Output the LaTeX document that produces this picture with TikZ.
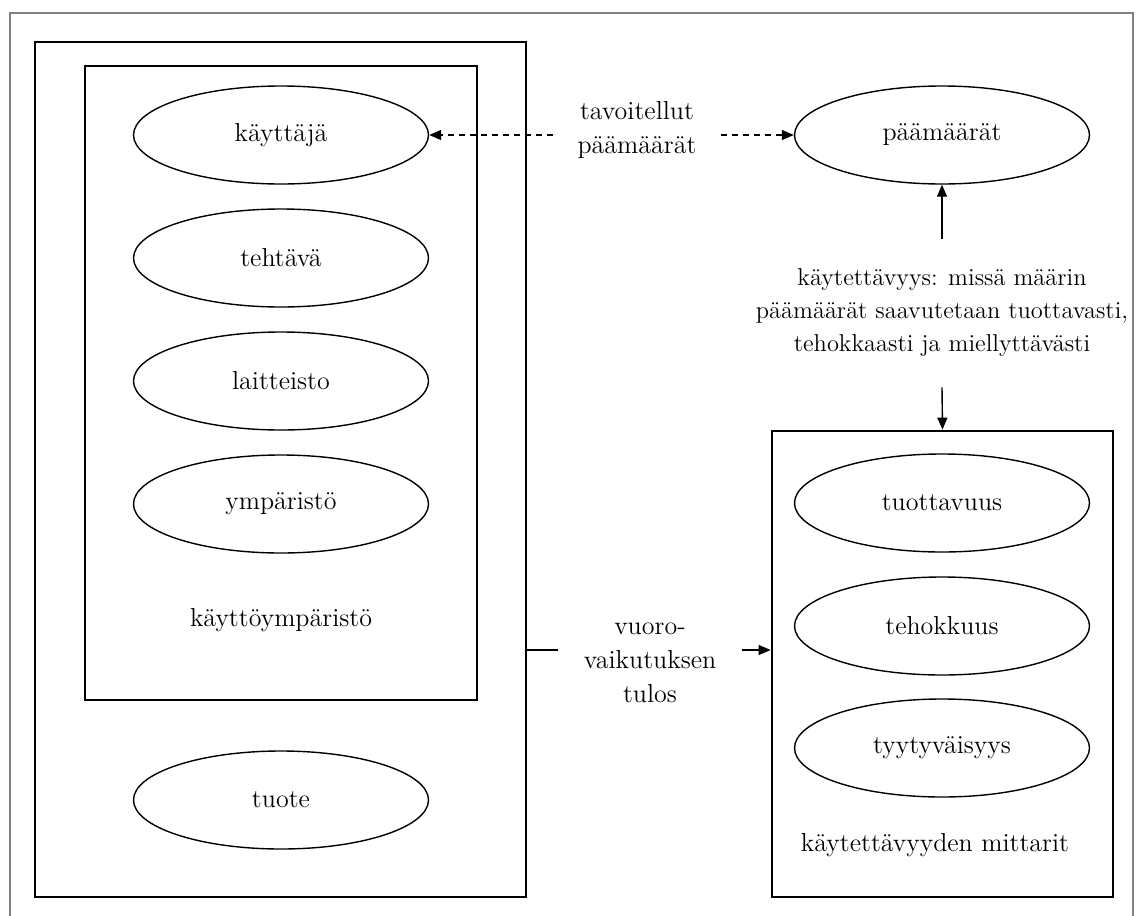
\documentclass[tikz,border=0pt]{standalone}
\usepackage{fontspec}
\usetikzlibrary{shapes.geometric,arrows.meta}
\begin{document}
\begin{tikzpicture}[x=0.5pt,y=-0.5pt,
  every node/.style={font=\fontsize{13}{17}\selectfont},
  oval/.style={draw,ellipse,line width=0.7pt,minimum width=147.5pt,minimum height=49pt,inner sep=0pt},
  box/.style={draw,line width=1.4pt,inner sep=0pt},
  arr/.style={-{Triangle[length=6pt,width=5pt]},line width=0.7pt},
  dashline/.style={dash pattern=on 3pt off 2.5pt}]

	\useasboundingbox (0,0) rectangle (1136,916);
	\draw[gray,line width=0.8pt] (10,916) -- (10,13) -- (1133,13) -- (1133,916);

	\node[box,minimum width=245.5pt,minimum height=427.5pt] (kaytto) at (280.5,469.5) {};
	\node[draw,line width=1pt,inner sep=0pt,minimum width=196pt,minimum height=317pt] (ymp) at (281,383) {};
	\node[oval] (kayttaja) at (281,135) {käyttäjä};
	\node[oval] (tehtava) at (281,258) {tehtävä};
	\node[oval] (laitteisto) at (281,381) {laitteisto};
	\node[oval] (ymparisto) at (281,504) {ympäristö};
	\node (ymplbl) at (281,620) {käyttöympäristö};
	\node[oval] (tuote) at (281,800) {tuote};

	\node[oval] (paamaarat) at (942,135) {päämäärät};
	\node[align=center,inner xsep=12pt] (tavoite) at (637,130) {tavoitellut\\päämäärät};
	\draw[arr,dashline] (tavoite.west |- kayttaja.east) -- (kayttaja.east);
	\draw[arr,dashline] (tavoite.east |- paamaarat.west) -- (paamaarat.west);

	\node[align=center,inner ysep=15pt,font=\fontsize{12.2}{16.5}\selectfont] (kaytettavyys) at (942,313) {käytettävyys: missä määrin\\päämäärät saavutetaan tuottavasti,\\tehokkaasti ja miellyttävästi};
	\node[box,minimum width=170.5pt,minimum height=233pt] (mittarit) at (942.5,664) {};
	\draw[arr] (kaytettavyys.north) -- (paamaarat.south);
	\draw[arr] (kaytettavyys.south) -- (mittarit.north);

	\node[oval] (tuottavuus) at (942,503) {tuottavuus};
	\node[oval] (tehokkuus) at (942,626) {tehokkuus};
	\node[oval] (tyytyvaisyys) at (942,748) {tyytyväisyys};
	\node (mittlbl) at (935,845) {käytettävyyden mittarit};

	\node[align=center,inner xsep=12.5pt] (tulos) at (650,663) {vuoro-\\vaikutuksen\\tulos};
	\coordinate (liitos) at (526,650);
	\draw[line width=0.7pt] (kaytto.east |- liitos) -- (tulos.west |- liitos);
	\draw[arr] (tulos.east |- liitos) -- (mittarit.west |- liitos);
\end{tikzpicture}
\end{document}
